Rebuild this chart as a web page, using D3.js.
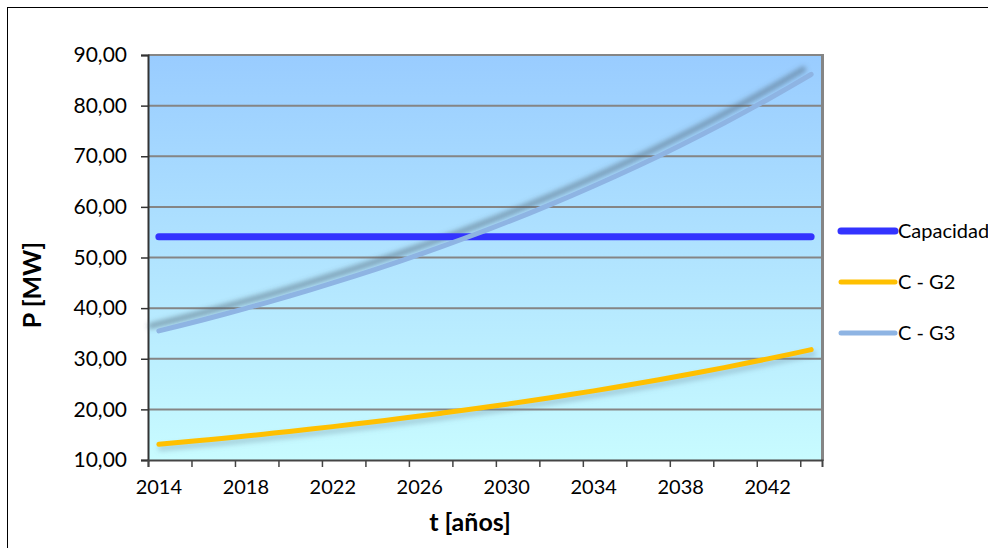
<!DOCTYPE html>
<html><head><meta charset="utf-8">
<script src="https://cdn.jsdelivr.net/npm/d3@7"></script>
<style>html,body{margin:0;padding:0;background:#fff;}svg{display:block;}</style>
</head><body>
<svg id="c" width="988" height="548"></svg>
<script>
const years = [2014,2015,2016,2017,2018,2019,2020,2021,2022,2023,2024,2025,2026,2027,2028,2029,2030,2031,2032,2033,2034,2035,2036,2037,2038,2039,2040,2041,2042,2043,2044];
const capacidad = [54.1,54.1,54.1,54.1,54.1,54.1,54.1,54.1,54.1,54.1,54.1,54.1,54.1,54.1,54.1,54.1,54.1,54.1,54.1,54.1,54.1,54.1,54.1,54.1,54.1,54.1,54.1,54.1,54.1,54.1,54.1];
const cG2 = [13.10,13.49,13.90,14.31,14.74,15.19,15.64,16.11,16.59,17.09,17.61,18.13,18.68,19.24,19.81,20.41,21.02,21.65,22.30,22.97,23.66,24.37,25.10,25.85,26.63,27.43,28.25,29.10,29.97,30.87,31.80];
const cG3 = [35.50,36.57,37.66,38.79,39.96,41.15,42.39,43.66,44.97,46.32,47.71,49.14,50.61,52.13,53.70,55.31,56.97,58.68,60.44,62.25,64.12,66.04,68.02,70.06,72.16,74.33,76.56,78.86,81.22,83.66,86.17];
const yTicks = [10,20,30,40,50,60,70,80,90];
const xLabelYears = [2014,2018,2022,2026,2030,2034,2038,2042];
const seriesNames = ["Capacidad","C - G2","C - G3"];

const FONT = "Lato, 'Open Sans', sans-serif";
const svg = d3.select("#c");
const L = 148, R = 822, T = 55, B = 460;

const defs = svg.append("defs");
const grad = defs.append("linearGradient").attr("id","bg").attr("x1",0).attr("y1",0).attr("x2",0).attr("y2",1);
grad.append("stop").attr("offset","0%").attr("stop-color","#99CCFF");
grad.append("stop").attr("offset","100%").attr("stop-color","#C8FBFF");
const blur = defs.append("filter").attr("id","blur").attr("x","-10%").attr("y","-50%").attr("width","120%").attr("height","200%");
blur.append("feGaussianBlur").attr("stdDeviation",2.5);

// outer border
svg.append("rect").attr("x",7.5).attr("y",7.5).attr("width",1000).attr("height",580)
  .attr("fill","#fff").attr("stroke","#000").attr("stroke-width",1);

const x = d3.scaleBand().domain(years).range([L,R]).paddingInner(0).paddingOuter(0);
const xb = d3.scaleLinear().domain([0,years.length]).range([L,R]);
const y = d3.scaleLinear().domain([10,90]).range([B,T]);
const cx = d => x(d) + x.bandwidth()/2;

svg.append("rect").attr("x",L).attr("y",T).attr("width",R-L).attr("height",B-T).attr("fill","url(#bg)");

// gridlines
svg.append("g").selectAll("line").data(yTicks.filter(v=>v>10)).join("line")
  .attr("x1",L).attr("x2",R).attr("y1",d=>y(d)).attr("y2",d=>y(d))
  .attr("stroke","#858585").attr("stroke-width",2);
// right border
svg.append("line").attr("x1",R+0.5).attr("x2",R+0.5).attr("y1",T-1).attr("y2",B+1)
  .attr("stroke","#858585").attr("stroke-width",3);

// axes
const yAxis = svg.append("g").attr("transform",`translate(${L},0)`)
  .call(d3.axisLeft(y).tickValues(yTicks).tickSize(7).tickPadding(14).tickFormat(d=>d3.format(".2f")(d).replace(".",",")));
yAxis.select(".domain").attr("stroke","#333").attr("stroke-width",2);
yAxis.selectAll(".tick line").attr("stroke","#333").attr("stroke-width",1.5);
yAxis.selectAll("text").attr("font-family",FONT).attr("font-size",21).attr("fill","#000");

const xTickAxis = svg.append("g").attr("transform",`translate(0,${B})`)
  .call(d3.axisBottom(xb).tickValues(d3.range(0,31,2)).tickSize(7).tickFormat(""));
xTickAxis.select(".domain").attr("stroke","#444").attr("stroke-width",2);
xTickAxis.selectAll(".tick line").attr("stroke","#444").attr("stroke-width",1.5);

const xAxis = svg.append("g").attr("transform",`translate(0,${B})`)
  .call(d3.axisBottom(x).tickValues(xLabelYears).tickSize(0).tickPadding(20));
xAxis.select(".domain").remove();
xAxis.selectAll("text").attr("font-family",FONT).attr("font-size",20).attr("fill","#000");

// axis titles
svg.append("text").attr("transform","translate(41,285) rotate(-90)").attr("text-anchor","middle")
  .attr("font-family",FONT).attr("font-weight","bold").attr("font-size",25).text("P [MW]");
svg.append("text").attr("x",470).attr("y",531).attr("text-anchor","middle")
  .attr("font-family",FONT).attr("font-weight","bold").attr("font-size",25).text("t [años]");

const line = d3.line().x((d,i)=>cx(years[i])).y(d=>y(d)).curve(d3.curveMonotoneX);

// shadows
svg.append("path").datum(capacidad).attr("d",line).attr("fill","none")
  .attr("stroke","#3a4a5a").attr("stroke-opacity",0.55).attr("stroke-width",7).attr("stroke-linecap","round")
  .attr("transform","translate(-3,8)").attr("filter","url(#blur)");
svg.append("path").datum(cG3).attr("d",line).attr("fill","none")
  .attr("stroke","#4a6070").attr("stroke-opacity",0.5).attr("stroke-width",6).attr("stroke-linecap","round")
  .attr("transform","translate(-8,-5)").attr("filter","url(#blur)");
svg.append("path").datum(cG2).attr("d",line).attr("fill","none")
  .attr("stroke","#6a8a9a").attr("stroke-opacity",0.35).attr("stroke-width",6).attr("stroke-linecap","round")
  .attr("transform","translate(2,4)").attr("filter","url(#blur)");

const colors = ["#3333FF","#FFC000","#8EB4E3"];
const widths = [7,5,5];
[capacidad,cG2,cG3].forEach((s,k)=>{
  svg.append("path").datum(s).attr("d",line).attr("fill","none")
    .attr("stroke",colors[k]).attr("stroke-width",widths[k]).attr("stroke-linecap","round");
});

// legend
const legY = [231,282,333];
const lg = svg.append("g");
seriesNames.forEach((n,k)=>{
  lg.append("line").attr("x1",841).attr("x2",895).attr("y1",legY[k]).attr("y2",legY[k])
    .attr("stroke",colors[k]).attr("stroke-width",widths[k]).attr("stroke-linecap","round");
  lg.append("text").attr("x",898).attr("y",legY[k]).attr("dy","0.35em")
    .attr("font-family",FONT).attr("font-size",20).text(n);
});
</script>
</body></html>
